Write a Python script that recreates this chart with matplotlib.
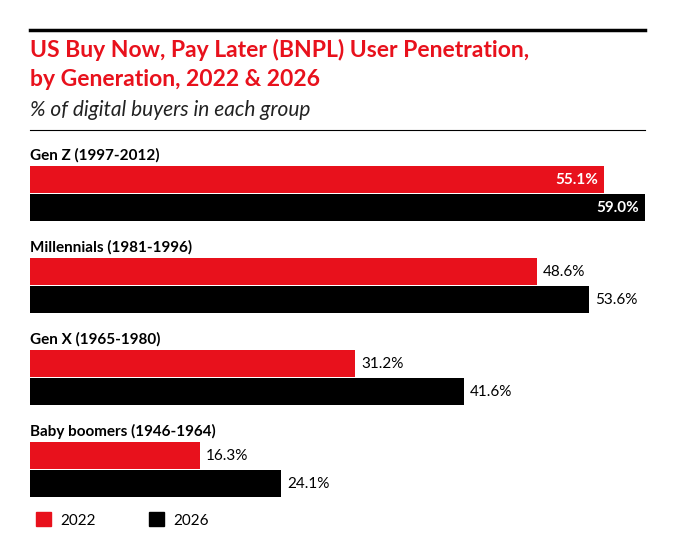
import matplotlib.pyplot as plt
from matplotlib.patches import Patch

generations = ["Gen Z (1997-2012)", "Millennials (1981-1996)", "Gen X (1965-1980)", "Baby boomers (1946-1964)"]
values_2022 = [55.1, 48.6, 31.2, 16.3]
values_2026 = [59.0, 53.6, 41.6, 24.1]
years = ["2022", "2026"]

RED = "#e8111c"
BLACK = "#000000"
W, H = 681, 539

fig = plt.figure(figsize=(W / 100, H / 100), dpi=100)
plt.rcParams['font.family'] = ['Lato', 'DejaVu Sans']

# axes: x from 30px to 645px (0..59), y in pixel units
ax = fig.add_axes([30 / W, (H - 505) / H, 615 / W, (505 - 145) / H])
ax.set_xlim(0, 59.0)
ax.set_ylim(505, 145)
ax.axis("off")

step = 92
bh = 27
for i, (g, a, b) in enumerate(zip(generations, values_2022, values_2026)):
    yr = 179.5 + step * i
    yb = 207.5 + step * i
    ax.barh(yr, a, height=bh, color=RED)
    ax.barh(yb, b, height=bh, color=BLACK)
    ax.text(0, 155 + step * i, g, fontsize=11, fontweight="bold", va="center", ha="left")
    for y, v in ((yr, a), (yb, b)):
        if v > 54:
            ax.text(v - 0.6, y, f"{v:.1f}%", color="white", fontsize=11, fontweight="bold",
                    va="center", ha="right")
        else:
            ax.text(v + 0.6, y, f"{v:.1f}%", color="black", fontsize=11,
                    va="center", ha="left")

# title block
fig.add_artist(plt.Line2D([30 / W, 645 / W], [1 - 30 / H] * 2, color="black", lw=2.5))
fig.text(30 / W, 1 - 50 / H, "US Buy Now, Pay Later (BNPL) User Penetration,", color=RED,
         fontsize=16.5, fontweight="bold", va="center")
fig.text(30 / W, 1 - 79 / H, "by Generation, 2022 & 2026", color=RED,
         fontsize=16.5, fontweight="bold", va="center")
fig.text(30 / W, 1 - 110 / H, "% of digital buyers in each group", color="#222222",
         fontsize=15, style="italic", va="center")
fig.add_artist(plt.Line2D([30 / W, 645 / W], [1 - 130 / H] * 2, color="black", lw=0.8))

# legend
handles = [Patch(color=RED), Patch(color=BLACK)]
fig.legend(handles, years, loc="center left", bbox_to_anchor=(22 / W, 1 - 520 / H), ncol=2,
           frameon=False, fontsize=11, handlelength=1.0, handleheight=1.0,
           columnspacing=3.5, handletextpad=0.6)

fig.savefig("out.png", dpi=100)
